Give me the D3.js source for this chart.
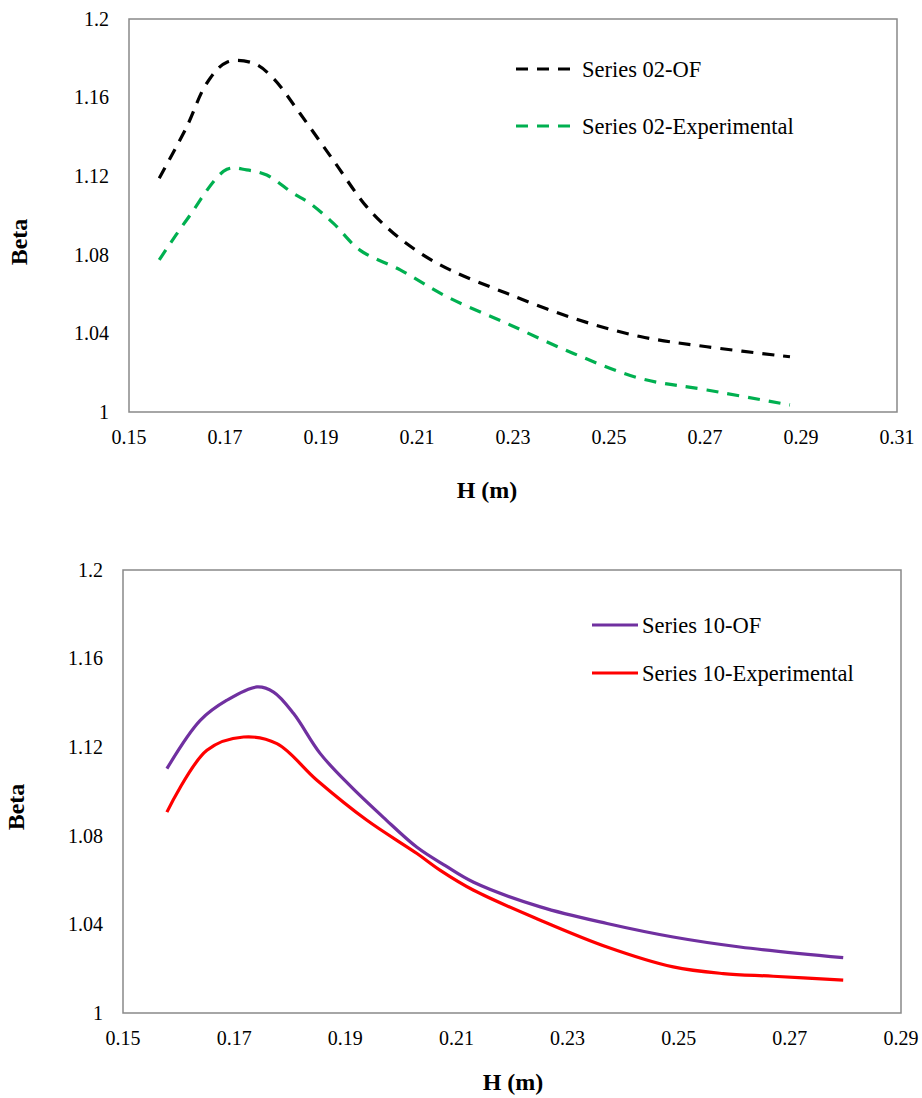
<!DOCTYPE html>
<html>
<head>
<meta charset="utf-8">
<script src="https://cdn.jsdelivr.net/npm/d3@7/dist/d3.min.js"></script>
<style>
  body { margin: 0; background: #fff; }
  svg text { font-family: "Liberation Serif", "Times New Roman", serif; fill: #000; }
</style>
</head>
<body>
<svg id="chart" width="922" height="1098"></svg>
<script>
// Series 02 (top chart): H (m), Beta
const s02OF = [
  [0.1563, 1.119], [0.1620, 1.145], [0.1662, 1.1673], [0.1704, 1.178], [0.1759, 1.1775],
  [0.1800, 1.170], [0.1856, 1.152], [0.1926, 1.128], [0.1995, 1.1045], [0.2051, 1.091],
  [0.2106, 1.081], [0.2169, 1.0723], [0.2287, 1.0604], [0.2426, 1.0477], [0.2565, 1.0384],
  [0.2704, 1.0332], [0.2877, 1.0281]
];
const s02Exp = [
  [0.1563, 1.0774], [0.1620, 1.0977], [0.1704, 1.1235], [0.1745, 1.1232], [0.1787, 1.1206],
  [0.1842, 1.1113], [0.1877, 1.1062], [0.1926, 1.096], [0.1981, 1.0824], [0.2065, 1.0723],
  [0.2162, 1.0587], [0.2287, 1.0451], [0.2426, 1.0298], [0.2565, 1.0171], [0.2704, 1.0112],
  [0.2877, 1.0036]
];
// Series 10 (bottom chart)
const s10OF = [
  [0.1579, 1.1103], [0.1639, 1.1321], [0.1687, 1.1412], [0.1741, 1.1472], [0.1771, 1.1449],
  [0.1807, 1.1352], [0.1855, 1.1171], [0.1909, 1.1025], [0.1969, 1.0882], [0.2029, 1.0748],
  [0.2080, 1.0665], [0.2131, 1.0590], [0.2251, 1.0479], [0.2371, 1.0404], [0.2490, 1.0343],
  [0.2610, 1.0298], [0.2796, 1.025]
];
const s10Exp = [
  [0.1579, 1.0907], [0.1651, 1.1186], [0.1717, 1.1246], [0.1777, 1.1216], [0.1849, 1.1051],
  [0.1939, 1.087], [0.2029, 1.072], [0.2071, 1.0644], [0.2131, 1.0554], [0.2251, 1.0419],
  [0.2371, 1.0298], [0.2490, 1.0208], [0.2580, 1.0178], [0.2670, 1.0166], [0.2796, 1.0148]
];

const yTicks = [1, 1.04, 1.08, 1.12, 1.16, 1.2];
const yTickLabels = ['1', '1.04', '1.08', '1.12', '1.16', '1.2'];
const xTicksTop = [0.15, 0.17, 0.19, 0.21, 0.23, 0.25, 0.27, 0.29, 0.31];
const xTicksBottom = [0.15, 0.17, 0.19, 0.21, 0.23, 0.25, 0.27, 0.29];
const legendTop = ['Series 02-OF', 'Series 02-Experimental'];
const legendBottom = ['Series 10-OF', 'Series 10-Experimental'];

const svg = d3.select('#chart');

function drawChart(opt) {
  const x = d3.scaleLinear().domain(opt.xDomain).range([opt.left, opt.right]);
  const y = d3.scaleLinear().domain([1, 1.2]).range([opt.bottom, opt.top]);
  const g = svg.append('g');

  g.append('rect')
    .attr('x', opt.left).attr('y', opt.top)
    .attr('width', opt.right - opt.left).attr('height', opt.bottom - opt.top)
    .attr('fill', 'none').attr('stroke', '#898989').attr('stroke-width', 1.5);

  // y tick labels
  g.selectAll('.ytick').data(yTicks).enter().append('text')
    .attr('x', opt.left - 20).attr('y', d => y(d))
    .attr('dy', '0.34em').attr('text-anchor', 'end')
    .style('font-size', '20px')
    .text((d, i) => yTickLabels[i]);

  // x tick labels
  g.selectAll('.xtick').data(opt.xTicks).enter().append('text')
    .attr('x', d => x(d)).attr('y', opt.bottom + 31.5)
    .attr('text-anchor', 'middle')
    .style('font-size', '20px')
    .text(d => d3.format('.2f')(d));

  g.append('text')
    .attr('x', opt.xTitleX).attr('y', opt.xTitleY)
    .attr('text-anchor', 'middle')
    .style('font-size', '24px').style('font-weight', 'bold')
    .text('H (m)');

  g.append('text')
    .attr('transform', `translate(${opt.yTitleX},${opt.yTitleY}) rotate(-90)`)
    .attr('text-anchor', 'middle').attr('dy', '0.35em')
    .style('font-size', '24px').style('font-weight', 'bold')
    .text('Beta');

  const line = d3.line()
    .x(d => x(d[0])).y(d => y(d[1]))
    .curve(d3.curveCatmullRom.alpha(0.5));

  opt.series.forEach((s, i) => {
    g.append('path')
      .datum(s.data)
      .attr('d', line)
      .attr('fill', 'none')
      .attr('stroke', s.color)
      .attr('stroke-width', opt.width)
      .attr('stroke-dasharray', opt.dash)
      .attr('stroke-linejoin', 'round');

    const ly = opt.legendY[i];
    g.append('line')
      .attr('x1', opt.legendX[0]).attr('x2', opt.legendX[1])
      .attr('y1', ly).attr('y2', ly)
      .attr('stroke', s.color).attr('stroke-width', opt.width)
      .attr('stroke-dasharray', opt.dash);
    g.append('text')
      .attr('x', opt.legendX[1] + 4).attr('y', ly + 8)
      .style('font-size', '22.5px')
      .text(s.name);
  });
}

drawChart({
  left: 129, right: 897, top: 19, bottom: 412,
  xDomain: [0.15, 0.31], xTicks: xTicksTop,
  xTitleX: 487, xTitleY: 498, yTitleX: 19, yTitleY: 242,
  width: 3.2, dash: '12,9',
  legendX: [516, 578], legendY: [69, 126],
  series: [
    { name: legendTop[0], data: s02OF, color: '#000000' },
    { name: legendTop[1], data: s02Exp, color: '#00b050' }
  ]
});

drawChart({
  left: 123, right: 901, top: 570, bottom: 1013,
  xDomain: [0.15, 0.29], xTicks: xTicksBottom,
  xTitleX: 513, xTitleY: 1090, yTitleX: 16, yTitleY: 807,
  width: 3.2, dash: null,
  legendX: [592, 638], legendY: [625, 673],
  series: [
    { name: legendBottom[0], data: s10OF, color: '#7030a0' },
    { name: legendBottom[1], data: s10Exp, color: '#ff0000' }
  ]
});
</script>
</body>
</html>
